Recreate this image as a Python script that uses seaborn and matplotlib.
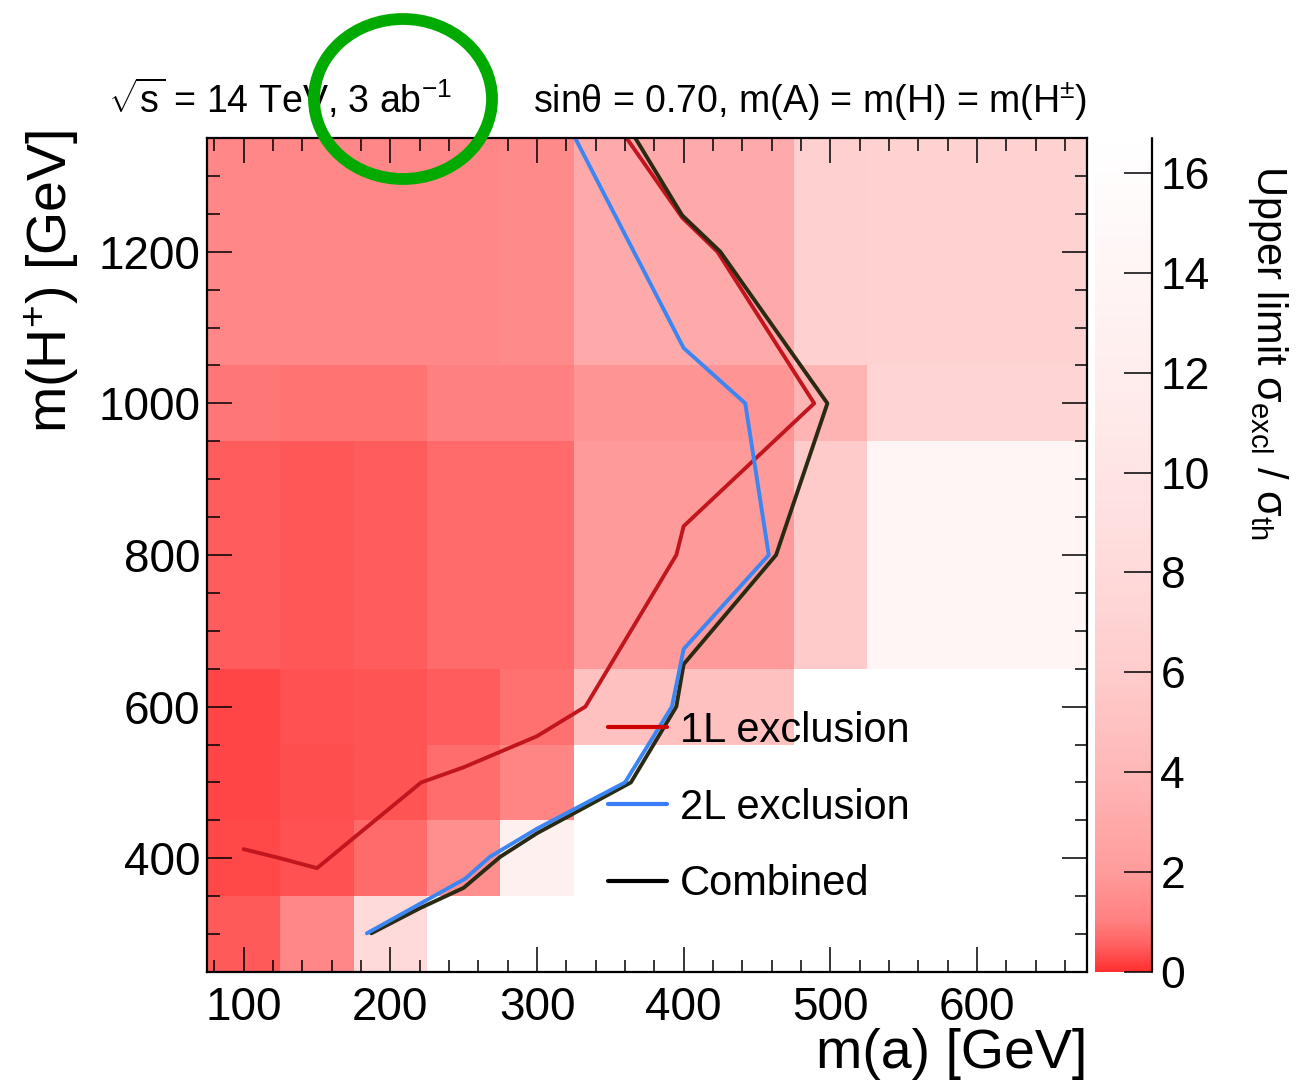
import numpy as np
import pandas as pd
import matplotlib
matplotlib.use("Agg")
import matplotlib.pyplot as plt
import seaborn as sns
from matplotlib.colors import LinearSegmentedColormap
from matplotlib.ticker import MultipleLocator
from matplotlib.lines import Line2D
from matplotlib.patches import Ellipse

# ---------------- data ----------------
ma_edges = [75, 125, 175, 225, 275, 325, 475, 525, 675]
mh_edges = [250, 350, 450, 550, 650, 950, 1050, 1350]
nan = np.nan
# upper limit sigma_excl / sigma_th, rows = m(H+) bins (bottom -> top), cols = m(a) bins
limit_250_350 = [0.47, 1.30, 8.0, nan, nan, nan, nan, nan]
limit_350_450 = [0.28, 0.37, 0.70, 1.59, 12.7, nan, nan, nan]
limit_450_550 = [0.26, 0.34, 0.41, 0.73, 1.16, nan, nan, nan]
limit_550_650 = [0.24, 0.36, 0.41, 0.50, 0.80, 4.83, nan, nan]
limit_650_950 = [0.50, 0.45, 0.52, 0.71, 0.71, 1.95, 5.8, 14.0]
limit_950_1050 = [0.87, 0.83, 0.83, 1.02, 1.02, 1.73, 3.75, 7.1]
limit_1050_1350 = [1.30, 1.30, 1.30, 1.30, 1.40, 3.04, 6.6, 6.9]

excl_1L_ma = [100, 125, 150, 221, 250, 300, 333, 395, 400, 489, 423, 399, 361]
excl_1L_mh = [412, 400, 387, 500, 520, 561, 600, 800, 838, 1000, 1200, 1245, 1350]
excl_2L_ma = [184, 251, 268, 300, 360, 392, 400, 458, 442, 400, 326]
excl_2L_mh = [301, 373, 402, 439, 500, 600, 676, 800, 1000, 1073, 1350]
comb_ma = [187, 220, 250, 275, 300, 364, 395, 400, 463, 498, 425, 399, 367]
comb_mh = [301, 334, 361, 402, 433, 500, 600, 656, 800, 1000, 1200, 1248, 1350]

curve_names = ["1L exclusion", "2L exclusion", "Combined"]

zmin, zmax = 0.0, 16.7
cbar_ticks = [0, 2, 4, 6, 8, 10, 12, 14, 16]

# ---------------- style ----------------
sns.set_style("ticks")
plt.rcParams["font.family"] = ["Liberation Sans", "DejaVu Sans"]
plt.rcParams["mathtext.fontset"] = "custom"
plt.rcParams["mathtext.rm"] = "Liberation Sans"
plt.rcParams["mathtext.it"] = "Liberation Sans:italic"
plt.rcParams["mathtext.bf"] = "Liberation Sans:bold"
plt.rcParams["mathtext.sf"] = "Liberation Sans"
for k in ["text.color", "axes.labelcolor", "xtick.color", "ytick.color",
          "axes.edgecolor"]:
    plt.rcParams[k] = "black"

# palette: red -> white (nonlinear)
stop_v = [0, 0.5, 1, 2, 4, 6, 8, 10, 12, 14, 16.7]
stop_g = [0.19, 0.37, 0.50, 0.61, 0.72, 0.80, 0.855, 0.895, 0.93, 0.96, 1.0]
cmap = LinearSegmentedColormap.from_list(
    "redwhite", [(v / zmax, (1.0, g, g)) for v, g in zip(stop_v, stop_g)], N=512)

W, H = 1305, 1092
fig = plt.figure(figsize=(W / 100, H / 100), dpi=100)
ax = fig.add_axes([207 / W, 1 - 972 / H, 880 / W, 834 / H])
cax = fig.add_axes([1095 / W, 1 - 972 / H, 57 / W, 834 / H])

Z = np.array([limit_250_350, limit_350_450, limit_450_550, limit_550_650,
              limit_650_950, limit_950_1050, limit_1050_1350], dtype=float)
mesh = ax.pcolormesh(ma_edges, mh_edges, np.ma.masked_invalid(Z), cmap=cmap,
                     vmin=zmin, vmax=zmax, shading="flat", edgecolors="none",
                     antialiased=False)

# exclusion curves via seaborn
df = pd.concat([
    pd.DataFrame({"ma": excl_1L_ma, "mh": excl_1L_mh, "curve": curve_names[0]}),
    pd.DataFrame({"ma": comb_ma, "mh": comb_mh, "curve": curve_names[2]}),
    pd.DataFrame({"ma": excl_2L_ma, "mh": excl_2L_mh, "curve": curve_names[1]}),
], ignore_index=True)
line_colors = {curve_names[0]: "#c2161e", curve_names[1]: "#3b86f2",
               curve_names[2]: "#2a2a12"}
sns.lineplot(data=df, x="ma", y="mh", hue="curve",
             hue_order=[curve_names[0], curve_names[2], curve_names[1]],
             palette=line_colors, sort=False, estimator=None, lw=2.8,
             legend=False, ax=ax)

ax.set_axisbelow(False)
ax.set_xlim(75, 675)
ax.set_ylim(250, 1350)
ax.xaxis.set_major_locator(MultipleLocator(100))
ax.xaxis.set_minor_locator(MultipleLocator(20))
ax.yaxis.set_major_locator(MultipleLocator(200))
ax.yaxis.set_minor_locator(MultipleLocator(50))
ax.tick_params(which="both", direction="in", top=True, right=True,
               color="black", width=1.1)
ax.tick_params(which="major", length=18, labelsize=33)
ax.tick_params(which="minor", length=9)
ax.tick_params(axis="x", which="major", pad=10)
ax.tick_params(axis="y", which="major", pad=5)
for s in ax.spines.values():
    s.set_linewidth(1.6)
    s.set_color("black")
    s.set_zorder(5)

ax.set_xlabel("m(a) [GeV]", fontsize=40, loc="right")
ax.xaxis.set_label_coords(1.0, -0.067)
ax.set_ylabel("m(H$^{+}$) [GeV]", fontsize=40, loc="top")
ax.yaxis.set_label_coords(-0.143, 1.01)

handles = [Line2D([], [], color="#cc0000", lw=3),
           Line2D([], [], color="#3a7cf5", lw=3),
           Line2D([], [], color="black", lw=3)]
ax.legend(handles, curve_names, loc="upper left", bbox_to_anchor=(0.4557, 0.313),
          frameon=False, fontsize=30, handlelength=1.42, handletextpad=0.31,
          labelspacing=0.88, borderpad=0, borderaxespad=0)

# colorbar
cb = fig.colorbar(mesh, cax=cax)
cb.outline.set_visible(False)
cb.set_ticks(cbar_ticks)
cax.set_axisbelow(False)
cax.tick_params(direction="in", length=20, width=1.1, labelsize=32, pad=6,
                right=True, left=False, color="black")
cax.axvline(1, color="black", lw=1.6, clip_on=False)
fig.text(1268 / W, 1 - 165 / H,
         r"Upper limit σ$_{\mathrm{excl}}$ / σ$_{\mathrm{th}}$",
         rotation=270, ha="center", va="top", fontsize=30)

# header texts
fig.text(108 / W, 1 - 113 / H, r"$\sqrt{\mathrm{s}}$ = 14 TeV, 3 ab$^{-1}$",
         ha="left", va="baseline", fontsize=27)
fig.text(1087 / W, 1 - 113 / H, r"sinθ = 0.70, m(A) = m(H) = m(H$^{\pm}$)",
         ha="right", va="baseline", fontsize=27)

# green circle annotation
fig.add_artist(Ellipse((403 / W, 1 - 99 / H), 178 / W, 160 / H,
                       transform=fig.transFigure, fill=False,
                       edgecolor="#00aa00", lw=8.5, zorder=10))

fig.savefig("out.png", dpi=100)
